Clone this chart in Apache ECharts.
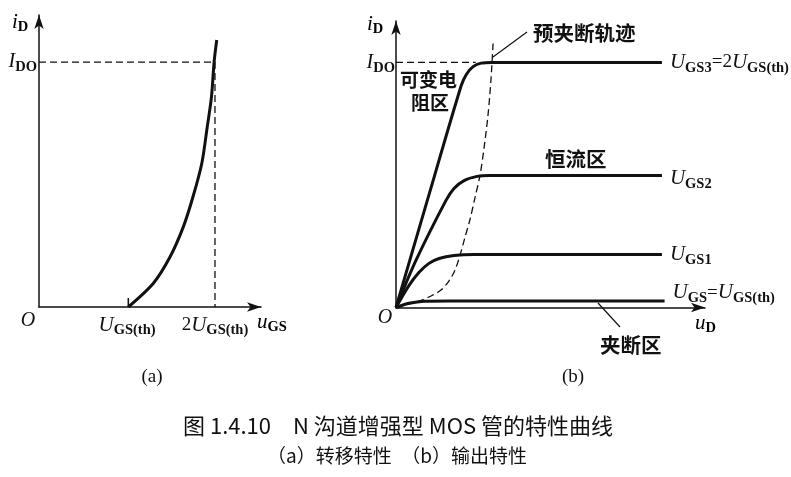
<!DOCTYPE html>
<html><head><meta charset="utf-8">
<script src="https://cdn.jsdelivr.net/npm/echarts@6/dist/echarts.min.js"></script>
<style>html,body{margin:0;padding:0;background:#fff}#c{width:791px;height:477px}</style>
</head><body><div id="c"></div>
<script>
// ---- (a) transfer characteristic: x in units of U_GS(th), y in units of I_DO
const transferCurve = [[1.015,0],[1.30,0.097],[1.49,0.205],[1.64,0.327],[1.75,0.45],[1.85,0.586],[1.91,0.73],[1.96,0.858],[1.99,1.0],[2.02,1.09]];
const transferTick = [[1.015,0],[1.015,0.037]];
const idoDashA = [[0,1],[1.98,1]];
const vDashA = [[2,1],[2,0]];
const xTickLabelsA = {1:'{U|U}{s|GS(th)}', 2:'{n|2}{U|U}{s|GS(th)}'};
// ---- (b) output characteristic: x = u_D (arbitrary units), y in units of I_DO
const ugs3 = [[0,0],[1.2,0.445],[2.45,0.905],[2.65,0.952],[2.9,0.983],[3.2,0.997],[3.6,1],[10,1]];
const ugs2 = [[0,0],[0.75,0.192],[1.88,0.437],[2.18,0.486],[2.56,0.518],[3.05,0.535],[3.5,0.539],[10,0.539]];
const ugs1 = [[0,0],[0.49,0.09],[0.86,0.143],[1.24,0.18],[1.62,0.2],[2.18,0.212],[2.93,0.216],[10,0.216]];
const ugsTh = [[0,0],[0.49,0.017],[1.05,0.026],[2,0.027],[10.1,0.027]];
const pinchOff = [[0,0],[0.49,0.014],[0.86,0.026],[1.32,0.047],[1.69,0.071],[1.99,0.108],[2.22,0.153],[2.41,0.214],[2.59,0.285],[2.78,0.358],[2.97,0.448],[3.16,0.54],[3.31,0.65],[3.46,0.785],[3.57,0.927],[3.65,1.077]];
const idoDashB = [[0,1],[3.0,1]];
const curveLabels = ['{U|U}{s|GS3}{n|=2}{U|U}{s|GS(th)}','{U|U}{s|GS2}','{U|U}{s|GS1}','{U|U}{s|GS}{n|=}{U|U}{s|GS(th)}'];

const SERIF = '"Liberation Serif","DejaVu Serif",serif';
const CJK = '"Noto Sans CJK SC","Noto Sans",sans-serif';
const rich = {
  U:{fontFamily:SERIF,fontStyle:'italic',fontSize:21,color:'#111'},
  I:{fontFamily:SERIF,fontStyle:'italic',fontSize:20,color:'#111'},
  n:{fontFamily:SERIF,fontSize:19,color:'#111'},
  s:{fontFamily:SERIF,fontWeight:'bold',fontSize:14.5,color:'#111',padding:[11,0,0,0]}
};

function axisLine(){return {show:true,onZero:false,symbol:['none','arrow'],symbolSize:[7,14],lineStyle:{color:'#111',width:1.5}};}

const chart = echarts.init(document.getElementById('c'),null,{renderer:'canvas'});
const solid = (xi,yi,data,extra)=>Object.assign({type:'line',xAxisIndex:xi,yAxisIndex:yi,data:data,showSymbol:false,symbol:'none',smooth:0.3,lineStyle:{color:'#111',width:3},silent:true,animation:false,z:3},extra||{});
const dashed = (xi,yi,data,extra)=>Object.assign({type:'line',xAxisIndex:xi,yAxisIndex:yi,data:data,showSymbol:false,symbol:'none',lineStyle:{color:'#111',width:1.3,type:[7,4]},silent:true,animation:false,z:2},extra||{});
const endLab = (txt,dy)=>({endLabel:{show:true,formatter:txt,distance:8,offset:[0,dy],rich:rich,color:'#111'}});
const cjk = (t,x,y,size)=>({type:'text',x:x,y:y,style:{text:t,font:'bold '+size+'px '+CJK,fill:'#111',verticalAlign:'middle'}});

const option = {
  backgroundColor:'#fff',
  animation:false,
  grid:[
    {left:39,top:15,width:222,height:292,outerBoundsMode:'none',containLabel:false},
    {left:396,top:21,width:309,height:286.5,outerBoundsMode:'none',containLabel:false}
  ],
  xAxis:[
    {gridIndex:0,type:'value',min:0,max:2.523,interval:1,axisLine:axisLine(),axisTick:{show:false},splitLine:{show:false},
     axisLabel:{show:true,margin:5,formatter:v=>xTickLabelsA[Math.round(v*1000)/1000]||'',rich:rich}},
    {gridIndex:1,type:'value',min:0,max:11.62,interval:1,axisLine:axisLine(),axisTick:{show:false},splitLine:{show:false},axisLabel:{show:false}}
  ],
  yAxis:[
    {gridIndex:0,type:'value',min:0,max:1.192,interval:1,axisLine:axisLine(),axisTick:{show:false},splitLine:{show:false},
     axisLabel:{show:true,margin:2,formatter:v=>Math.abs(v-1)<1e-6?'{I|I}{s|DO}':'',rich:rich}},
    {gridIndex:1,type:'value',min:0,max:1.169,interval:1,axisLine:axisLine(),axisTick:{show:false},splitLine:{show:false},
     axisLabel:{show:true,margin:1,formatter:v=>Math.abs(v-1)<1e-6?'{I|I}{s|DO}':'',rich:rich}}
  ],
  series:[
    dashed(0,0,idoDashA),
    dashed(0,0,vDashA),
    solid(0,0,transferCurve),
    solid(0,0,transferTick,{smooth:false,lineStyle:{color:'#111',width:1.5}}),
    dashed(1,1,idoDashB),
    dashed(1,1,pinchOff,{smooth:0.3}),
    solid(1,1,ugs3,endLab(curveLabels[0],0)),
    solid(1,1,ugs2,endLab(curveLabels[1],3)),
    solid(1,1,ugs1,endLab(curveLabels[2],0)),
    solid(1,1,ugsTh,endLab(curveLabels[3],-8))
  ],
  graphic:[
    {type:'text',x:12,y:22,style:{text:'{i|i}{s|D}',rich:{i:rich.U,s:rich.s},verticalAlign:'middle'}},
    {type:'text',x:28,y:321,style:{text:'O',font:'italic 20px '+SERIF,fill:'#111',align:'center',verticalAlign:'middle'}},
    {type:'text',x:257,y:322,style:{text:'{u|u}{s|GS}',rich:{u:rich.U,s:rich.s},verticalAlign:'middle'}},
    {type:'text',x:367,y:24,style:{text:'{i|i}{s|D}',rich:{i:rich.U,s:rich.s},verticalAlign:'middle'}},
    {type:'text',x:385,y:318,style:{text:'O',font:'italic 20px '+SERIF,fill:'#111',align:'center',verticalAlign:'middle'}},
    {type:'text',x:695,y:323,style:{text:'{u|u}{s|D}',rich:{u:rich.U,s:rich.s},verticalAlign:'middle'}},
    cjk('可变电',400,80,19),
    cjk('阻区',411,103,19),
    cjk('预夹断轨迹',533,33,20.5),
    cjk('恒流区',545,159,20.5),
    cjk('夹断区',600,345,20.5),
    {type:'line',shape:{x1:493,y1:57,x2:527,y2:32},style:{stroke:'#111',lineWidth:1.2}},
    {type:'line',shape:{x1:598,y1:303,x2:620,y2:327},style:{stroke:'#111',lineWidth:1.2}},
    {type:'text',x:152,y:377,style:{text:'(a)',font:'19px '+SERIF,fill:'#111',align:'center',verticalAlign:'middle'}},
    {type:'text',x:573,y:377,style:{text:'(b)',font:'19px '+SERIF,fill:'#111',align:'center',verticalAlign:'middle'}},
    {type:'text',x:398,y:426,style:{text:'图 1.4.10　N 沟道增强型 MOS 管的特性曲线',font:'22px '+CJK,fill:'#111',align:'center',verticalAlign:'middle'}},
    {type:'text',x:397,y:456,style:{text:'（a）转移特性　（b）输出特性',font:'19px '+CJK,fill:'#111',align:'center',verticalAlign:'middle'}}
  ]
};
chart.setOption(option);
</script></body></html>
